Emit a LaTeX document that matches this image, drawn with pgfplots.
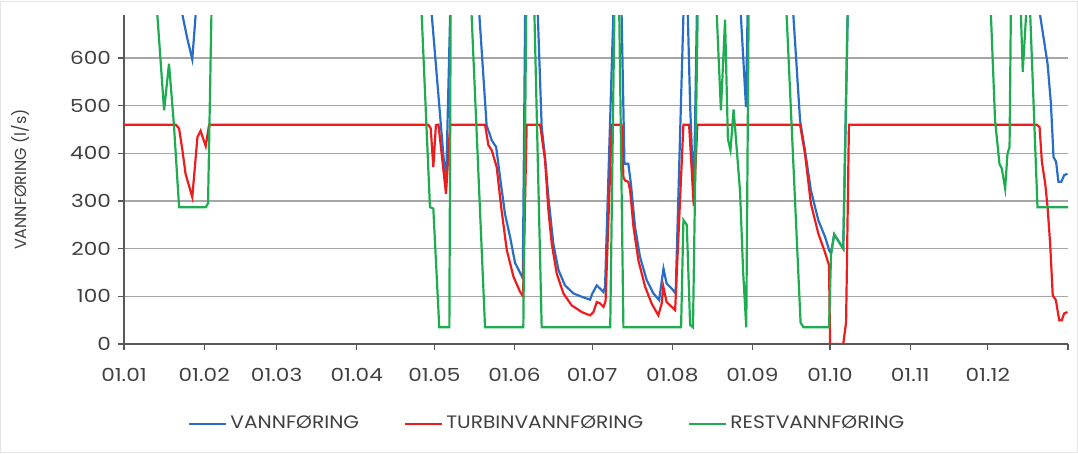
\documentclass[border=0pt]{standalone}
\usepackage{fontspec}
\setmainfont{Poppins}
\newfontfamily\tickfont{Poppins}[FakeStretch=1.2]
\newfontfamily\legfont{Poppins}[FakeStretch=1.12]
\usepackage{pgfplots}
\pgfplotsset{compat=1.18}

\definecolor{cblue}{RGB}{40,110,200}
\definecolor{cred}{RGB}{238,28,28}
\definecolor{cgreen}{RGB}{30,172,80}
\definecolor{gridgray}{RGB}{166,166,166}
\definecolor{axisgray}{RGB}{89,89,89}
\definecolor{textgray}{RGB}{64,64,64}

\begin{document}
\begin{tikzpicture}[font=\fontsize{9}{11}\selectfont]
\begin{axis}[
  name=ax,
  scale only axis, width=472pt, height=164.5pt,
  xmin=0, xmax=365, ymin=0, ymax=690,
  axis x line=bottom, axis y line=left,
  axis line style={-, draw=axisgray, line width=0.75pt},
  xtick={0,31,59,90,120,151,181,212,243,273,304,334,365},
  xticklabels={01.01,01.02,01.03,01.04,01.05,01.06,01.07,01.08,01.09,01.10,01.11,01.12,{}},
  ytick={0,100,200,300,400,500,600},
  /pgf/number format/assume math mode=true,
  tick align=outside, major tick length=3pt,
  tick style={draw=axisgray, line width=0.6pt},
  ymajorgrids, grid style={draw=gridgray, line width=0.6pt},
  ticklabel style={text=textgray, font=\tickfont\fontsize{9}{11}\selectfont},
  xticklabel style={yshift=-5.5pt},
  ylabel={VANNFØRING (l/s)},
  ylabel style={at={(axis description cs:-0.110,0.5)}, anchor=center, text=textgray,
    font=\fontsize{8}{10}\selectfont},
  legend columns=3,
  legend style={at={(axis description cs:0.449,-0.243)}, anchor=center,
    draw=none, fill=none, text=textgray, font=\legfont\fontsize{9}{11}\selectfont,
    /tikz/every even column/.append style={column sep=21pt},
    nodes={inner sep=1.5pt}},
  legend image code/.code={\draw[#1] (0pt,0pt) -- (18.5pt,0pt);},
  every axis plot/.append style={line width=1.1pt, no marks},
]

\addplot[color=cblue] coordinates {
(0,1000)(22.2,1000)(22.6,690)(24.5,640)(26.4,597)(27.7,690)(28.2,1000)
(118.6,1000)(119,690)(124.5,330)(126.1,690)(126.5,1000)
(137,1000)(137.4,690)(140.2,459)(142.2,427)(143.9,413)(145.4,350)(147.3,273)
(149.3,224)(151.2,170)(153.1,150)(154.2,138)(155.1,690)(155.5,1000)
(159.6,1000)(160,690)(161.5,455)(162.8,392)(164.1,308)(166,210)(168,155)
(170.5,123)(173.8,106)(177,99)(180.2,93)(181.1,106)(182.8,123)(184.1,116)
(185.4,109)(186,120)(189.2,690)(189.6,1000)
(192,1000)(192.4,690)(193.5,378)(195,378)(196,336)(197.6,245)(199.5,183)
(202.1,134)(204.7,106)(206.9,92)(208.6,158)(209.8,127)(211.8,116)(213.3,106)
(216.3,690)(216.7,1000)(217.6,1000)(218,690)(218.9,500)(220.3,300)(221.5,690)
(221.9,1000)(238.1,1000)(238.5,690)(240.5,497)(241.1,690)(241.5,1000)
(258.4,1000)(258.8,690)(261.4,469)(263.3,406)(265.6,322)(268.5,259)(271.1,224)
(272.7,196)(273.4,190)(274.6,230)(278.1,200)(279.8,690)(280.3,1000)
(353.8,1000)(354.2,690)(355.5,644)(357.1,588)(358.4,504)(359.4,392)(360.4,382)
(361.3,340)(362.4,340)(363.5,354)(364.8,357)
};
\addlegendentry{VANNFØRING}

\addplot[color=cred] coordinates {
(0,460)(20,460)(21.3,452)(22.6,406)(23.8,357)(26.4,308)(28.4,434)(29.6,447)
(31.6,415)(32.9,460)(117.7,460)(118.6,452)(119.6,371)(120.6,459)(121.6,460)
(124.5,315)(126.1,460)(139.6,460)(140.9,417)(142.2,406)(144.1,371)(146,280)
(148,197)(150.6,141)(153.1,110)(154.3,100)(155.7,460)(160.9,460)(162.8,385)
(164.1,280)(165.4,210)(167.3,148)(169.9,106)(173.1,81)(177,67)(180.2,60)
(181.5,67)(182.8,88)(184.1,85)(185.4,78)(186.2,90)(188.6,460)(192.4,460)
(193.1,350)(193.7,343)(195,340)(195.7,322)(197,245)(198.9,175)(201.5,120)
(204,85)(206.6,60)(207.9,85)(208.5,121)(209.8,88)(213.1,71)(216.3,460)
(218.5,460)(220.3,290)(221.7,460)(261.4,460)(263.3,399)(265.6,294)(268.5,231)
(270.8,196)(272.6,165)(273,0)(278.1,0)(279.2,46)(280.3,460)(352.9,460)
(354,455)(354.9,382)(356.2,336)(357.1,287)(358.1,210)(359.1,102)(360.3,92)
(361.6,50)(362.6,50)(363.5,64)(364.8,67)
};
\addlegendentry{TURBINVANNFØRING}

\addplot[color=cgreen] coordinates {
(0,1000)(12.9,690)(15.5,490)(17.4,588)(19.3,460)(21.3,287)(31.6,287)(32.5,295)
(33.8,690)(34.3,1000)(114.6,1000)(115.1,690)(118.3,287)(119.6,284)(121.9,35)
(125.8,35)(126.3,690)(126.8,1000)(134,1000)(134.4,690)(139.6,35)(154.4,35)
(155.5,690)(156,1000)(158.2,1000)(158.7,690)(161.5,35)(188,35)(189.6,690)
(190,1000)(191,1000)(191.5,690)(193.1,35)(215.4,35)(216.3,260)(217.6,250)
(218.9,40)(220,35)(221.8,690)(222.2,1000)(228.8,1000)(229.2,690)(230.8,490)
(232.4,680)(233.5,430)(234.5,406)(235.7,492)(236.9,410)(238.2,320)(239.4,150)
(240.6,35)(241.5,690)(242,1000)(255.8,1000)(256.2,690)(261.6,45)(262.7,35)
(272.6,35)(273.4,190)(274.6,230)(278.1,200)(279.8,690)(280.3,1000)
(334.8,1000)(335.2,690)(336.8,469)(338.5,378)(339.4,368)(340.7,326)(341.6,399)
(342.4,413)(342.9,690)(343.4,1000)(346.4,1000)(346.8,690)(347.5,571)(348.8,690)
(349.2,1000)(350,1000)(350.4,690)(353.2,287)(365,287)
};
\addlegendentry{RESTVANNFØRING}

\end{axis}
\path[use as bounding box] ([xshift=-62pt,yshift=-55pt]ax.south west)
  rectangle ([xshift=5pt,yshift=7.5pt]ax.north east);
\draw[black!10, line width=0.5pt] ([xshift=-61.5pt,yshift=-54.5pt]ax.south west)
  rectangle ([xshift=4.5pt,yshift=7pt]ax.north east);
\end{tikzpicture}
\end{document}
